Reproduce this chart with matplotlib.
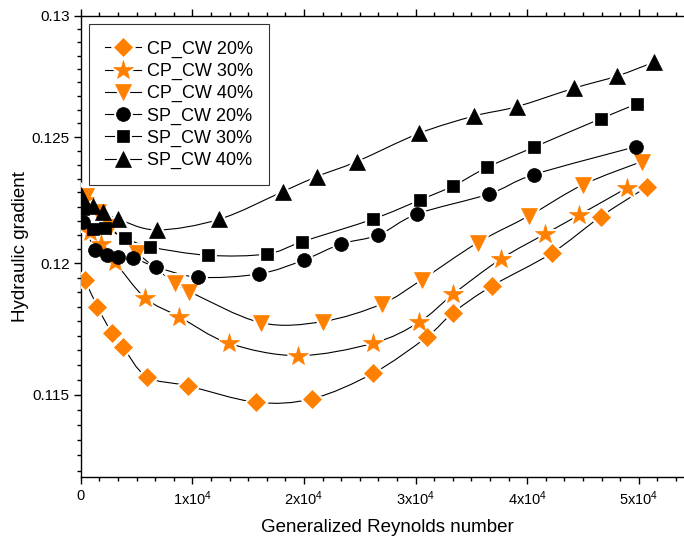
import numpy as np
import matplotlib
matplotlib.use("Agg")
import matplotlib.pyplot as plt
from matplotlib.path import Path
from matplotlib.patches import PathPatch
from matplotlib.lines import Line2D
from matplotlib.legend_handler import HandlerTuple
from matplotlib.ticker import FixedLocator, FixedFormatter, AutoMinorLocator, NullFormatter

plt.rcParams['font.family'] = ['Liberation Sans', 'DejaVu Sans']
plt.rcParams['mathtext.fontset'] = 'custom'
plt.rcParams['mathtext.rm'] = 'Liberation Sans'
plt.rcParams['mathtext.default'] = 'regular'

# ---- data ----
cp20_re = [385, 1487, 2803, 3761, 5911, 9583, 15700, 20742, 26205, 30987,
           33369, 36862, 42182, 46570, 50690]
cp20_hg = [0.11936, 0.11833, 0.11732, 0.11681, 0.11568, 0.11534, 0.11473, 0.11486,
           0.11581, 0.11717, 0.11810, 0.11913, 0.12039, 0.12182, 0.12299]

cp30_re = [296, 833, 1818, 3072, 5786, 8830, 13255, 19434, 26205, 30325,
           33370, 37615, 41583, 44655, 48900]
cp30_hg = [0.12248, 0.12122, 0.12075, 0.12005, 0.11866, 0.11794, 0.11694, 0.11647,
           0.11694, 0.11774, 0.11881, 0.12016, 0.12114, 0.12189, 0.12295]

cp40_re = [475, 1576, 2624, 5087, 8445, 9726, 16121, 21674, 26958, 30540,
           35556, 40177, 44959, 50243]
cp40_hg = [0.12262, 0.12199, 0.12142, 0.12039, 0.11923, 0.11891, 0.11772, 0.11776,
           0.11843, 0.11936, 0.12080, 0.12186, 0.12308, 0.12401]

sp20_re = [233, 1281, 2355, 3367, 4657, 6744, 10532, 15996, 19999, 23312,
           26653, 30146, 36594, 40598, 49733]
sp20_hg = [0.12163, 0.12052, 0.12032, 0.12023, 0.12022, 0.11986, 0.11946, 0.11959,
           0.12013, 0.12075, 0.12110, 0.12193, 0.12272, 0.12349, 0.12461]

sp30_re = [206, 1075, 2176, 3968, 6207, 11401, 16658, 19846, 26205, 30388,
           33370, 36415, 40598, 46571, 49849]
sp30_hg = [0.12213, 0.12134, 0.12137, 0.12099, 0.12064, 0.12031, 0.12036, 0.12084,
           0.12173, 0.12248, 0.12304, 0.12378, 0.12459, 0.12574, 0.12635]

sp40_re = [30, 1075, 1997, 3341, 6832, 12413, 18091, 21136, 24718, 30325,
           35223, 39047, 44206, 48057, 51345]
sp40_hg = [0.12268, 0.12225, 0.12199, 0.12173, 0.12130, 0.12172, 0.12281, 0.12341,
           0.12401, 0.12515, 0.12585, 0.12623, 0.12699, 0.12749, 0.12806]

labels = ["CP_CW 20%", "CP_CW 30%", "CP_CW 40%", "SP_CW 20%", "SP_CW 30%", "SP_CW 40%"]

y_ticks = [0.115, 0.12, 0.125, 0.13]
y_tick_labels = ["0.115", "0.12", "0.125", "0.13"]
x_ticks = [0, 10000, 20000, 30000, 40000, 50000]
x_tick_labels = ["0", "1x10$^4$", "2x10$^4$", "3x10$^4$", "4x10$^4$", "5x10$^4$"]

orange = '#FF8000'
series = [
    (cp20_re, cp20_hg, 'D', orange, 9.5),
    (cp30_re, cp30_hg, '*', orange, 14.5),
    (cp40_re, cp40_hg, 'v', orange, 12),
    (sp20_re, sp20_hg, 'o', 'black', 10),
    (sp30_re, sp30_hg, 's', 'black', 9),
    (sp40_re, sp40_hg, '^', 'black', 12),
]


def smooth_path(x, y):
    # catmull-rom through the points, drawn as cubic bezier (in x / log y space)
    x = np.asarray(x, float)
    u = np.log(np.asarray(y, float))
    pts = np.column_stack([x, u])
    n = len(pts)
    verts = [pts[0]]
    codes = [Path.MOVETO]
    for i in range(n - 1):
        p0 = pts[i - 1] if i > 0 else pts[i]
        p1 = pts[i]
        p2 = pts[i + 1]
        p3 = pts[i + 2] if i + 2 < n else pts[i + 1]
        c1 = p1 + (p2 - p0) / 6.0
        c2 = p2 - (p3 - p1) / 6.0
        verts += [c1, c2, p2]
        codes += [Path.CURVE4] * 3
    verts = np.array(verts)
    verts[:, 1] = np.exp(verts[:, 1])
    return Path(verts, codes)


fig = plt.figure(figsize=(6.84, 5.39), dpi=100)
ax = fig.add_axes([0.118, 0.1156, 0.8976, 0.8553])
ax.set_yscale('log')

handles = []
for xs, ys, mk, col, ms in series:
    ax.add_patch(PathPatch(smooth_path(xs, ys), facecolor='none', edgecolor='black',
                           lw=0.8, zorder=2))
    ax.plot(xs, ys, ls='none', marker=mk, ms=ms, mfc='white', mec='white', mew=3.5, zorder=3)
    ax.plot(xs, ys, ls='none', marker=mk, ms=ms, mfc=col, mec=col, mew=0.5, zorder=4)
    h1 = Line2D([], [], color='black', lw=0.8, marker=mk, ms=ms, mfc='white', mec='white', mew=3.5)
    h2 = Line2D([], [], ls='none', marker=mk, ms=ms, mfc=col, mec=col, mew=0.5)
    handles.append((h1, h2))

ax.set_xlim(0, 55000)
ax.set_ylim(0.112, 0.13)

ax.xaxis.set_major_locator(FixedLocator(x_ticks))
ax.xaxis.set_major_formatter(FixedFormatter(x_tick_labels))
ax.xaxis.set_minor_locator(AutoMinorLocator(6))

ax.yaxis.set_major_locator(FixedLocator(y_ticks))
ax.yaxis.set_major_formatter(FixedFormatter(y_tick_labels))
step = 0.005 / 9
ax.yaxis.set_minor_locator(FixedLocator(np.arange(0.11, 0.1301, step)))
ax.yaxis.set_minor_formatter(NullFormatter())

for s in ax.spines.values():
    s.set_linewidth(1.0)
ax.spines['right'].set_visible(False)

ax.tick_params(axis='both', which='both', direction='out', width=1.0)
ax.tick_params(which='major', length=5)
ax.tick_params(which='minor', length=3)
ax.tick_params(axis='y', labelsize=11, pad=3)
ax.tick_params(axis='x', labelsize=10.5, pad=4)
ax.tick_params(axis='x', which='both', top=True)

ax.set_xlabel("Generalized Reynolds number", fontsize=13.5, labelpad=8)
ax.set_ylabel("Hydraulic gradient", fontsize=13.5, labelpad=1.5)

leg = ax.legend(handles, labels, handler_map={tuple: HandlerTuple(ndivide=1)},
                loc='upper left', bbox_to_anchor=(0.0135, 0.981), borderaxespad=0,
                fontsize=13, frameon=True, fancybox=False, handlelength=2.0,
                handletextpad=0.3, labelspacing=0.28, borderpad=0.9)
leg.get_frame().set_edgecolor('black')
leg.get_frame().set_linewidth(0.8)

fig.savefig("out.png", dpi=100)
